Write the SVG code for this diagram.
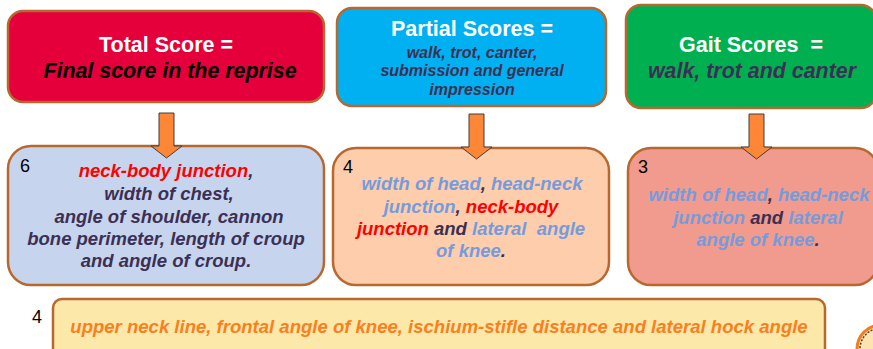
<svg xmlns="http://www.w3.org/2000/svg" width="873" height="349" viewBox="0 0 873 349">
<style>
text{font-family:"Liberation Sans",Arial,sans-serif;text-anchor:middle;white-space:pre}
.b{stroke:#b8682f;stroke-width:2.5}
.h{font-weight:700;fill:#fff;font-size:21.5px}
.i{font-weight:700;font-style:italic;fill:#3b3054}
.n{font-size:18px;fill:#000;text-anchor:start}
.r{fill:#ff0000}.l{fill:#769bdc}
.a{fill:#fd8637;stroke:#3f3f3f;stroke-width:1}
</style>
<g id="total-score"><rect class="b" x="8" y="11" width="316" height="91" rx="15" fill="#e6003b"/>
<text class="h" x="166" y="52">Total Score =</text>
<text class="i" x="170" y="78" font-size="21.4" style="fill:#000">Final score in the reprise</text></g>
<g id="partial-scores"><rect class="b" x="337" y="8" width="269" height="98" rx="15" fill="#00b0f0"/>
<text class="h" x="472" y="36">Partial Scores =</text>
<text class="i" x="472" y="57.500" font-size="16">walk, trot, canter,</text>
<text class="i" x="472" y="76" font-size="16">submission and general</text>
<text class="i" x="472" y="95" font-size="16">impression</text></g>
<g id="gait-scores"><rect class="b" x="626" y="5" width="250" height="103" rx="15" fill="#00b050"/>
<text class="h" x="751" y="52">Gait Scores  =</text>
<text class="i" x="752" y="78" font-size="21.4">walk, trot and canter</text></g>
<g id="traits-6"><rect class="b" x="8" y="146" width="316" height="139" rx="23" fill="#c7d4ee"/>
<text class="n" x="20" y="172">6</text>
<text class="i" font-size="18.500"><tspan x="166" y="177"><tspan class="r">neck-body junction</tspan>,</tspan><tspan x="169" y="200">width of chest,</tspan><tspan x="169" y="222.500">angle of shoulder, cannon</tspan><tspan x="166" y="245">bone perimeter, length of croup</tspan><tspan x="166" y="267">and angle of croup.</tspan></text></g>
<g id="traits-4"><rect class="b" x="333" y="148" width="276" height="137" rx="23" fill="#fecdac"/>
<text class="n" x="343" y="173">4</text>
<text class="i" font-size="18.500"><tspan x="472" y="190"><tspan class="l">width of head</tspan>, <tspan class="l">head-neck</tspan></tspan><tspan x="471" y="212.500"><tspan class="l">junction</tspan>, <tspan class="r">neck-body</tspan></tspan><tspan x="471" y="235"><tspan class="r">junction</tspan> and <tspan class="l">lateral  angle</tspan></tspan><tspan x="471" y="257"><tspan class="l">of knee</tspan>.</tspan></text></g>
<g id="traits-3"><rect class="b" x="628" y="148" width="250" height="137" rx="23" fill="#f09b8d"/>
<text class="n" x="638" y="173">3</text>
<text class="i" font-size="18.500"><tspan x="759" y="201"><tspan class="l">width of head</tspan>, <tspan class="l">head-neck</tspan></tspan><tspan x="758" y="224"><tspan class="l">junction</tspan> and <tspan class="l">lateral</tspan></tspan><tspan x="758" y="246"><tspan class="l">angle of knee</tspan>.</tspan></text></g>
<g id="traits-other"><rect class="b" x="53" y="299" width="772" height="60" rx="9" fill="#fce8a8"/>
<text class="n" x="32" y="323">4</text>
<text class="i" x="439" y="333" font-size="18.550" style="fill:#fa7f1e">upper neck line, frontal angle of knee, ischium-stifle distance and lateral hock angle</text></g>
<g id="connectors">
<path class="a" d="M159 113H174V146H182L166.500 158L151 146H159Z"/>
<path class="a" d="M469 114H484V147H492L476.500 159L461 147H469Z"/>
<path class="a" d="M749 114H764V147H772L756.500 159L741 147H749Z"/>
</g>
<g id="logo"><circle cx="881" cy="349" r="24" fill="#fce3b0" stroke="#f47b20" stroke-width="3"/><circle cx="881" cy="349" r="21" fill="none" stroke="#5a3a28" stroke-width="1.500" stroke-dasharray="2 1.500"/></g>
</svg>
